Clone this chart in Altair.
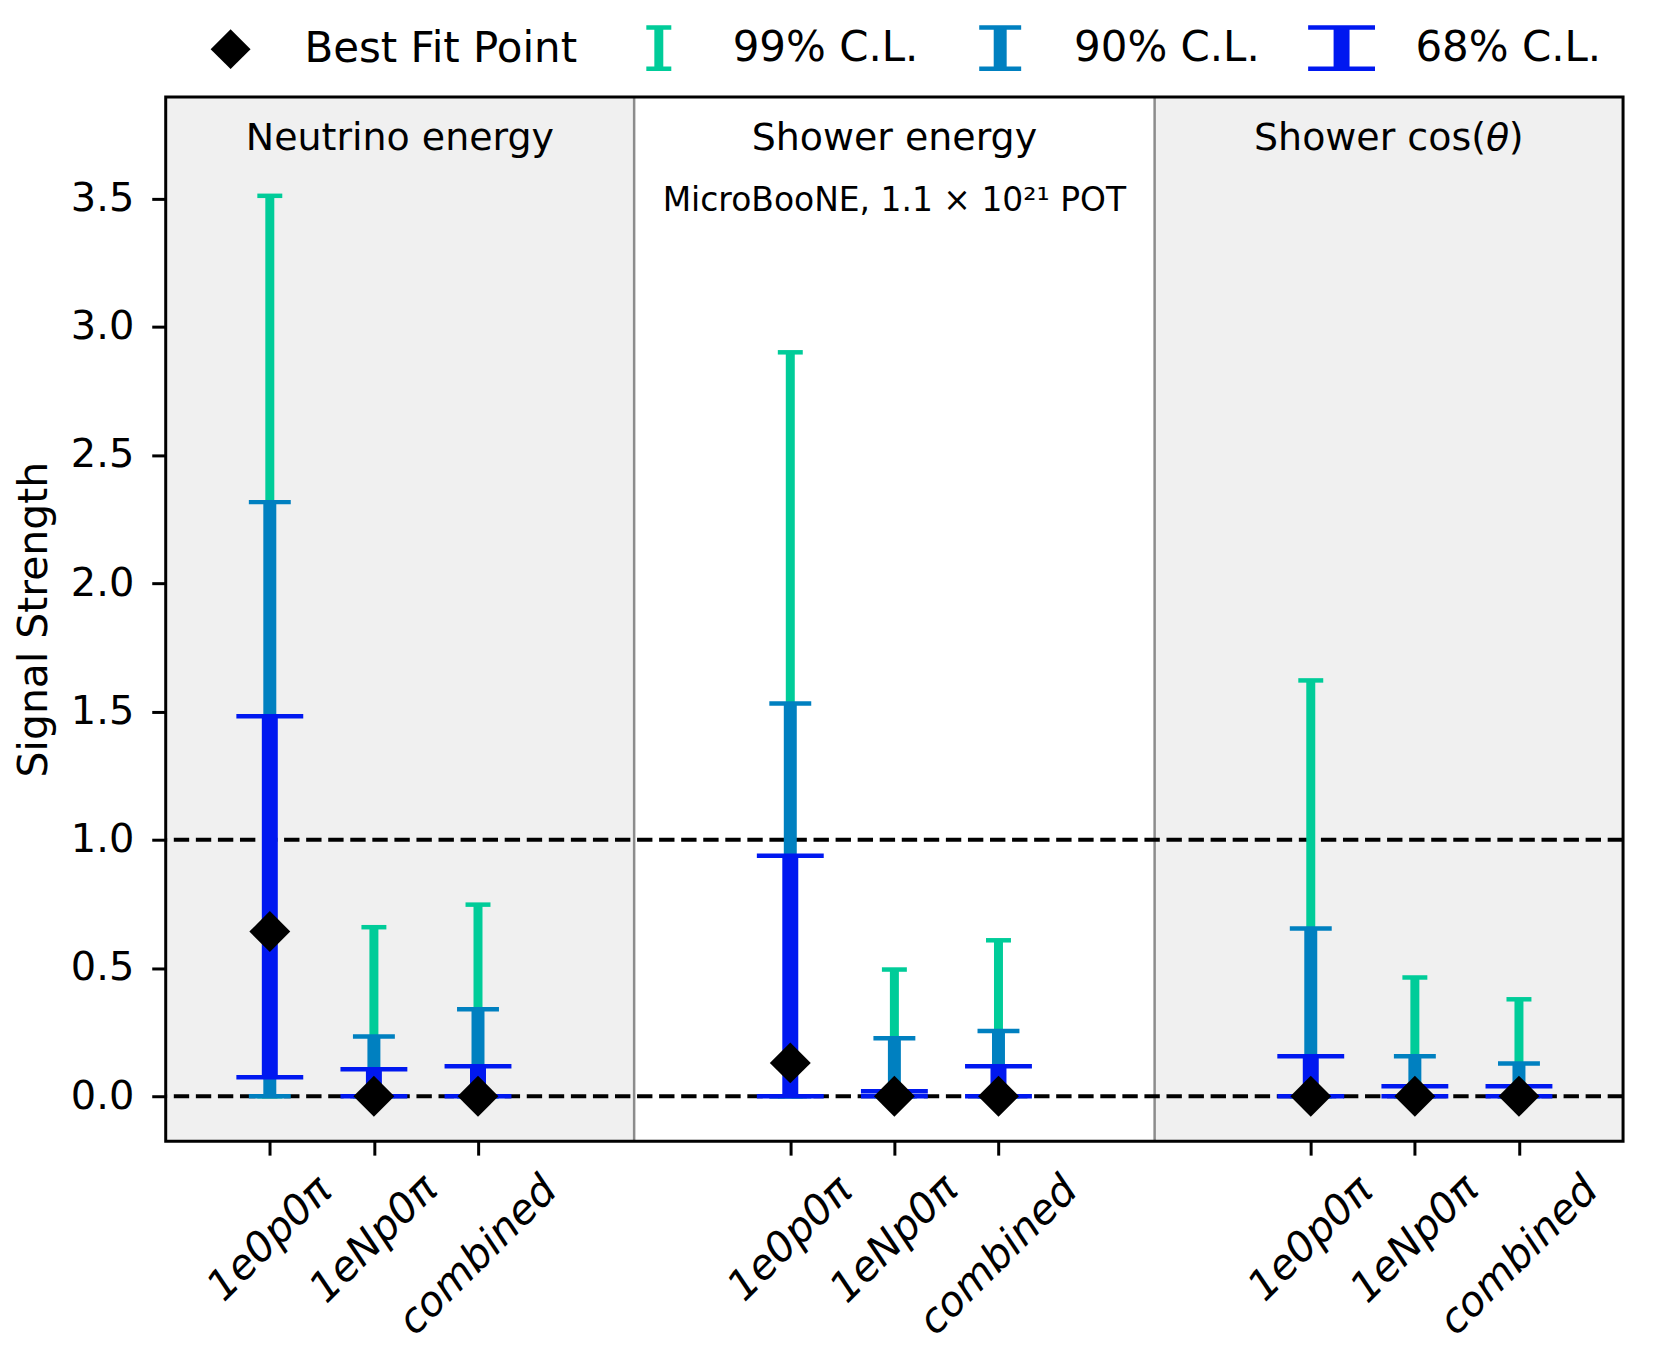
import altair as alt
import pandas as pd

# ---------------- data ----------------
panels = ["Neutrino energy", "Shower energy", "Shower cos(θ)"]
channels = ["1e0p0π", "1eNp0π", "combined"]
positions = [0, 1, 2, 5, 6, 7, 10, 11, 12]
panel_edges = [-1, 3.5, 8.5, 13]
panel_shaded = [True, False, True]

best = [0.642, 0.0, 0.0, 0.130, 0.0, 0.0, 0.0, 0.0, 0.0]
lo99 = [0.0, 0.0, 0.0, 0.0, 0.0, 0.0, 0.0, 0.0, 0.0]
hi99 = [3.51, 0.659, 0.747, 2.90, 0.494, 0.608, 1.621, 0.463, 0.378]
lo90 = [0.0, 0.0, 0.0, 0.0, 0.0, 0.0, 0.0, 0.0, 0.0]
hi90 = [2.316, 0.233, 0.339, 1.531, 0.226, 0.254, 0.654, 0.156, 0.128]
lo68 = [0.074, 0.0, 0.0, 0.0, 0.0, 0.0, 0.0, 0.0, 0.0]
hi68 = [1.481, 0.105, 0.117, 0.938, 0.020, 0.117, 0.156, 0.039, 0.039]

yticks = [0.0, 0.5, 1.0, 1.5, 2.0, 2.5, 3.0, 3.5]
ref_lines = [0.0, 1.0]
legend_labels = ["Best Fit Point", "99% C.L.", "90% C.L.", "68% C.L."]
annotation = "MicroBooNE, 1.1 × 10²¹ POT"

# ---------------- styles ----------------
FONT = "DejaVu Sans"
C99, C90, C68 = "#00cc99", "#0080c0", "#0018f0"
W, H = 1460, 1046
Y_DOMAIN = [-0.175, 3.895]
X_DOMAIN = [-1, 13]
TITLE_Y = 3.73
ANNOT_Y = 3.49
TITLE_FS = 38
UNIT = 34.0  # px per path unit in the legend (sqrt(symbolSize)/2)


def ibeam(cap_px, stem_px, thick_px, height_px, unit=UNIT):
    c = cap_px / 2 / unit
    s = stem_px / 2 / unit
    t = thick_px / unit
    h = height_px / 2 / unit
    pts = [(-c, -h), (c, -h), (c, -h + t), (s, -h + t), (s, h - t), (c, h - t),
           (c, h), (-c, h), (-c, h - t), (-s, h - t), (-s, -h + t), (-c, -h + t)]
    return "M" + "L".join(f"{x:.3f},{y:.3f}" for x, y in pts) + "Z"


LEG_DIAMOND_PX = 40
PLOT_DIAMOND_PX = 41


def diamond(width_px, unit=UNIT):
    r = width_px / 2 / unit
    return f"M0,{-r:.3f}L{r:.3f},0L0,{r:.3f}L{-r:.3f},0Z"


legend_shapes = [diamond(LEG_DIAMOND_PX), ibeam(25, 9, 4.5, 46),
                 ibeam(42, 13, 4.5, 46), ibeam(67, 16, 4.5, 46)]
legend_colors = ["black", C99, C90, C68]
PLOT_DIAMOND_SIZE = (2 * PLOT_DIAMOND_PX / (LEG_DIAMOND_PX / UNIT)) ** 2

df = pd.DataFrame({
    "pos": positions, "best": best,
    "lo99": lo99, "hi99": hi99, "lo90": lo90, "hi90": hi90,
    "lo68": lo68, "hi68": hi68,
    "lab": ["Best Fit Point"] * len(positions),
})

shade_df = pd.DataFrame({
    "x0": [panel_edges[i] for i in range(3) if panel_shaded[i]],
    "x1": [panel_edges[i + 1] for i in range(3) if panel_shaded[i]],
})
divider_df = pd.DataFrame({"x": panel_edges[1:-1]})
centers = [(panel_edges[i] + panel_edges[i + 1]) / 2 for i in range(3)]
plain_titles = [(c, t) for c, t in zip(centers, panels) if "θ" not in t]
math_titles = [(c, t) for c, t in zip(centers, panels) if "θ" in t]
title_df = pd.DataFrame({"x": [c for c, _ in plain_titles], "t": [t for _, t in plain_titles]})
annot_df = pd.DataFrame({"x": [centers[1]], "t": [annotation]})
ref_df = pd.DataFrame({"y": ref_lines})
frame_df = pd.DataFrame({"x0": [X_DOMAIN[0]], "x1": [X_DOMAIN[1]],
                         "y0": [Y_DOMAIN[0]], "y1": [Y_DOMAIN[1]]})

xscale = alt.Scale(domain=X_DOMAIN, nice=False, zero=False)
yscale = alt.Scale(domain=Y_DOMAIN, nice=False, zero=False)

label_list = "[" + ",".join(f"'{c}'" for c in channels) + "]"
xaxis = alt.Axis(
    values=positions,
    labelExpr=f"{label_list}[datum.value % 5]",
    labelAngle=-45,
    labelAlign="center",
    labelBaseline="middle",
    labelPadding={"condition": {"test": "datum.value % 5 == 2", "value": 101}, "value": 84},
    labelFont=FONT, labelFontSize=41.5, labelFontStyle="italic", labelColor="black",
    labelLimit=500, labelOverlap=False,
    tickSize=14, tickWidth=3, tickColor="black",
    domain=False, grid=False, title=None,
)
yaxis = alt.Axis(
    values=yticks, format=".1f",
    labelFont=FONT, labelFontSize=40, labelColor="black", labelPadding=18,
    tickSize=14, tickWidth=3, tickColor="black",
    domain=False, grid=False,
    title="Signal Strength", titleFont=FONT, titleFontSize=41,
    titleFontWeight="normal", titleColor="black", titlePadding=15,
)


def X(field):
    return alt.X(field, type="quantitative", scale=xscale, axis=xaxis)


def Y(field):
    return alt.Y(field, type="quantitative", scale=yscale, axis=yaxis)


shade = alt.Chart(shade_df).mark_rect(color="#f0f0f0").encode(
    x=X("x0"), x2="x1")
dividers = alt.Chart(divider_df).mark_rule(color="#8c8c8c", strokeWidth=2.5).encode(x=X("x"))
refs = alt.Chart(ref_df).mark_rule(color="black", strokeWidth=4, strokeDash=[15.4, 6.7]).encode(y=Y("y"))

layers = [shade, dividers, refs]
for lvl, col, sw, capw in [("99", C99, 9, 25), ("90", C90, 13, 42), ("68", C68, 16, 67)]:
    base = alt.Chart(df)
    layers.append(base.mark_rule(color=col, strokeWidth=sw).encode(
        x=X("pos"), y=Y("lo" + lvl), y2="hi" + lvl))
    for end in ("lo", "hi"):
        layers.append(base.mark_tick(color=col, orient="horizontal", size=capw,
                                     thickness=4.5, opacity=1).encode(
            x=X("pos"), y=Y(end + lvl)))

frame = alt.Chart(frame_df).mark_rect(filled=False, stroke="black", strokeWidth=3).encode(
    x=X("x0"), x2="x1", y=Y("y0"), y2="y1")
layers.append(frame)

legend = alt.Legend(
    title=None, orient="none", direction="horizontal", columns=4,
    legendX=31, legendY=-83,
    symbolSize=(2 * UNIT) ** 2, symbolStrokeWidth=0, symbolOpacity=1,
    labelFont=FONT, labelFontSize=42, labelColor="black",
    labelOffset=40, columnPadding=47, labelLimit=500,
)
diamonds = alt.Chart(df).mark_point(filled=True, size=PLOT_DIAMOND_SIZE, opacity=1).encode(
    x=X("pos"), y=Y("best"),
    color=alt.Color("lab:N", scale=alt.Scale(domain=legend_labels, range=legend_colors), legend=legend),
    shape=alt.Shape("lab:N", scale=alt.Scale(domain=legend_labels, range=legend_shapes), legend=legend),
)
layers.append(diamonds)

ty = alt.datum(TITLE_Y, type="quantitative", scale=yscale)
titles = alt.Chart(title_df).mark_text(font=FONT, fontSize=TITLE_FS, color="black",
                                        align="center", baseline="middle").encode(
    x=X("x"), y=ty, text="t:N")
layers.append(titles)

# "Shower cos(θ)" with an italic θ, as in matplotlib mathtext.
# DejaVu Sans advance widths (em): used only to place the three pieces side by side.
ADV = {"S": .635, "h": .634, "o": .612, "w": .818, "e": .615, "r": .411, " ": .318,
       "c": .550, "s": .521, "(": .390, ")": .390, "θ": .602}
for cx, txt in math_titles:
    head, tail = txt.split("θ")
    w1 = sum(ADV.get(ch, .6) for ch in head) * TITLE_FS
    w2 = ADV["θ"] * TITLE_FS
    w3 = sum(ADV.get(ch, .6) for ch in tail) * TITLE_FS
    left = -(w1 + w2 + w3) / 2
    pdf = pd.DataFrame({"x": [cx]})
    layers.append(alt.Chart(pdf).mark_text(
        text=head, font=FONT, fontSize=TITLE_FS, color="black", align="left",
        baseline="middle", dx=left).encode(x=X("x"), y=ty))
    layers.append(alt.Chart(pdf).mark_text(
        text="θ", font=FONT, fontSize=TITLE_FS, fontStyle="italic", color="black",
        align="left", baseline="middle", dx=left + w1).encode(x=X("x"), y=ty))
    layers.append(alt.Chart(pdf).mark_text(
        text=tail, font=FONT, fontSize=TITLE_FS, color="black", align="left",
        baseline="middle", dx=left + w1 + w2).encode(x=X("x"), y=ty))

annot = alt.Chart(annot_df).mark_text(font=FONT, fontSize=33, color="black",
                                       align="center", baseline="middle").encode(
    x=X("x"), y=alt.datum(ANNOT_Y, type="quantitative", scale=yscale), text="t:N")
layers.append(annot)

chart = alt.layer(*layers).properties(
    width=W, height=H,
    padding={"left": 158, "top": 88, "right": 30, "bottom": 205},
    autosize=alt.AutoSizeParams(type="none"),
    background="white",
).configure_view(strokeWidth=0)

chart.save("out.html", embed_options={"renderer": "svg", "actions": False})
